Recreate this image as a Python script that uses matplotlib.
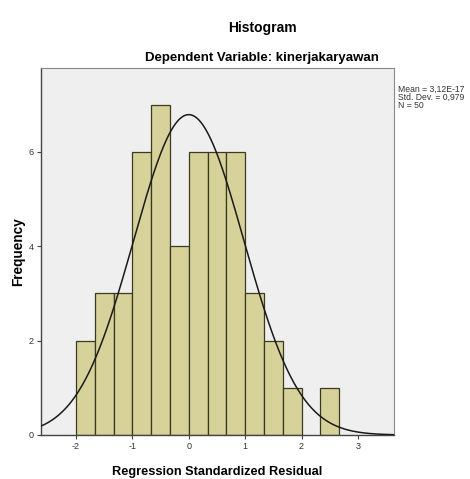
import numpy as np
import matplotlib
matplotlib.use("Agg")
import matplotlib.pyplot as plt

plt.rcParams['font.family'] = ['Liberation Sans', 'DejaVu Sans']

# Data
bin_width = 1 / 3
bin_lefts = [-2.0, -5/3, -4/3, -1.0, -2/3, -1/3, 0.0, 1/3, 2/3, 1.0, 4/3, 5/3, 2.0, 7/3]
counts = [2, 3, 3, 6, 7, 4, 6, 6, 6, 3, 2, 1, 0, 1]
mean_val = 3.12e-17
std_val = 0.979
n_val = 50
x_ticks = [-2, -1, 0, 1, 2, 3]
x_tick_labels = ['-2', '-1', '0', '1', '2', '3']
y_ticks = [0, 2, 4, 6]

fig = plt.figure(figsize=(4.7, 4.79), dpi=100)
ax = fig.add_axes([41/470, 1 - 435/479, (394-41)/470, (435-68)/479])
ax.set_facecolor('#efefef')

lefts = [l for l, c in zip(bin_lefts, counts) if c > 0]
hs = [c for c in counts if c > 0]
ax.bar(lefts, hs, width=bin_width, align='edge', color='#d6d29a',
       edgecolor='#3a3a20', linewidth=0.9, zorder=2)

xs = np.linspace(-2.62, 3.64, 400)
ys = n_val * bin_width / (std_val * np.sqrt(2 * np.pi)) * np.exp(-0.5 * ((xs - mean_val) / std_val) ** 2)
ax.plot(xs, ys, color='#1a1a1a', linewidth=1.1, zorder=3)

ax.set_xlim(-2.62, 3.64)
ax.set_ylim(0, 7.78)
ax.set_xticks(x_ticks)
ax.set_xticklabels(x_tick_labels)
ax.set_yticks(y_ticks)
ax.tick_params(axis='both', labelsize=6.5, length=3, width=0.8, color='#444444',
               labelcolor='#333333', pad=2)
for s in ['top', 'right']:
    ax.spines[s].set_color('#888888')
    ax.spines[s].set_linewidth(0.8)
for s in ['left', 'bottom']:
    ax.spines[s].set_color('#444444')
    ax.spines[s].set_linewidth(1.0)

ax.set_xlabel('Regression Standardized Residual', fontsize=9.2, fontweight='bold', labelpad=10.5)
ax.set_ylabel('Frequency', fontsize=9.8, fontweight='bold', labelpad=3)

fig.text(262/470, 1 - 28/479, 'Histogram', ha='center', va='center', fontsize=10, fontweight='bold')
fig.text(262/470, 1 - 58/479, 'Dependent Variable: kinerjakaryawan', ha='center', va='center',
         fontsize=9.5, fontweight='bold')
fig.text(398/470, 1 - 85/479, 'Mean = 3,12E-17\nStd. Dev. = 0,979\nN = 50', ha='left', va='top',
         fontsize=6.2, color='#333333', linespacing=0.85)

fig.savefig('out.png', dpi=100, facecolor='white')
